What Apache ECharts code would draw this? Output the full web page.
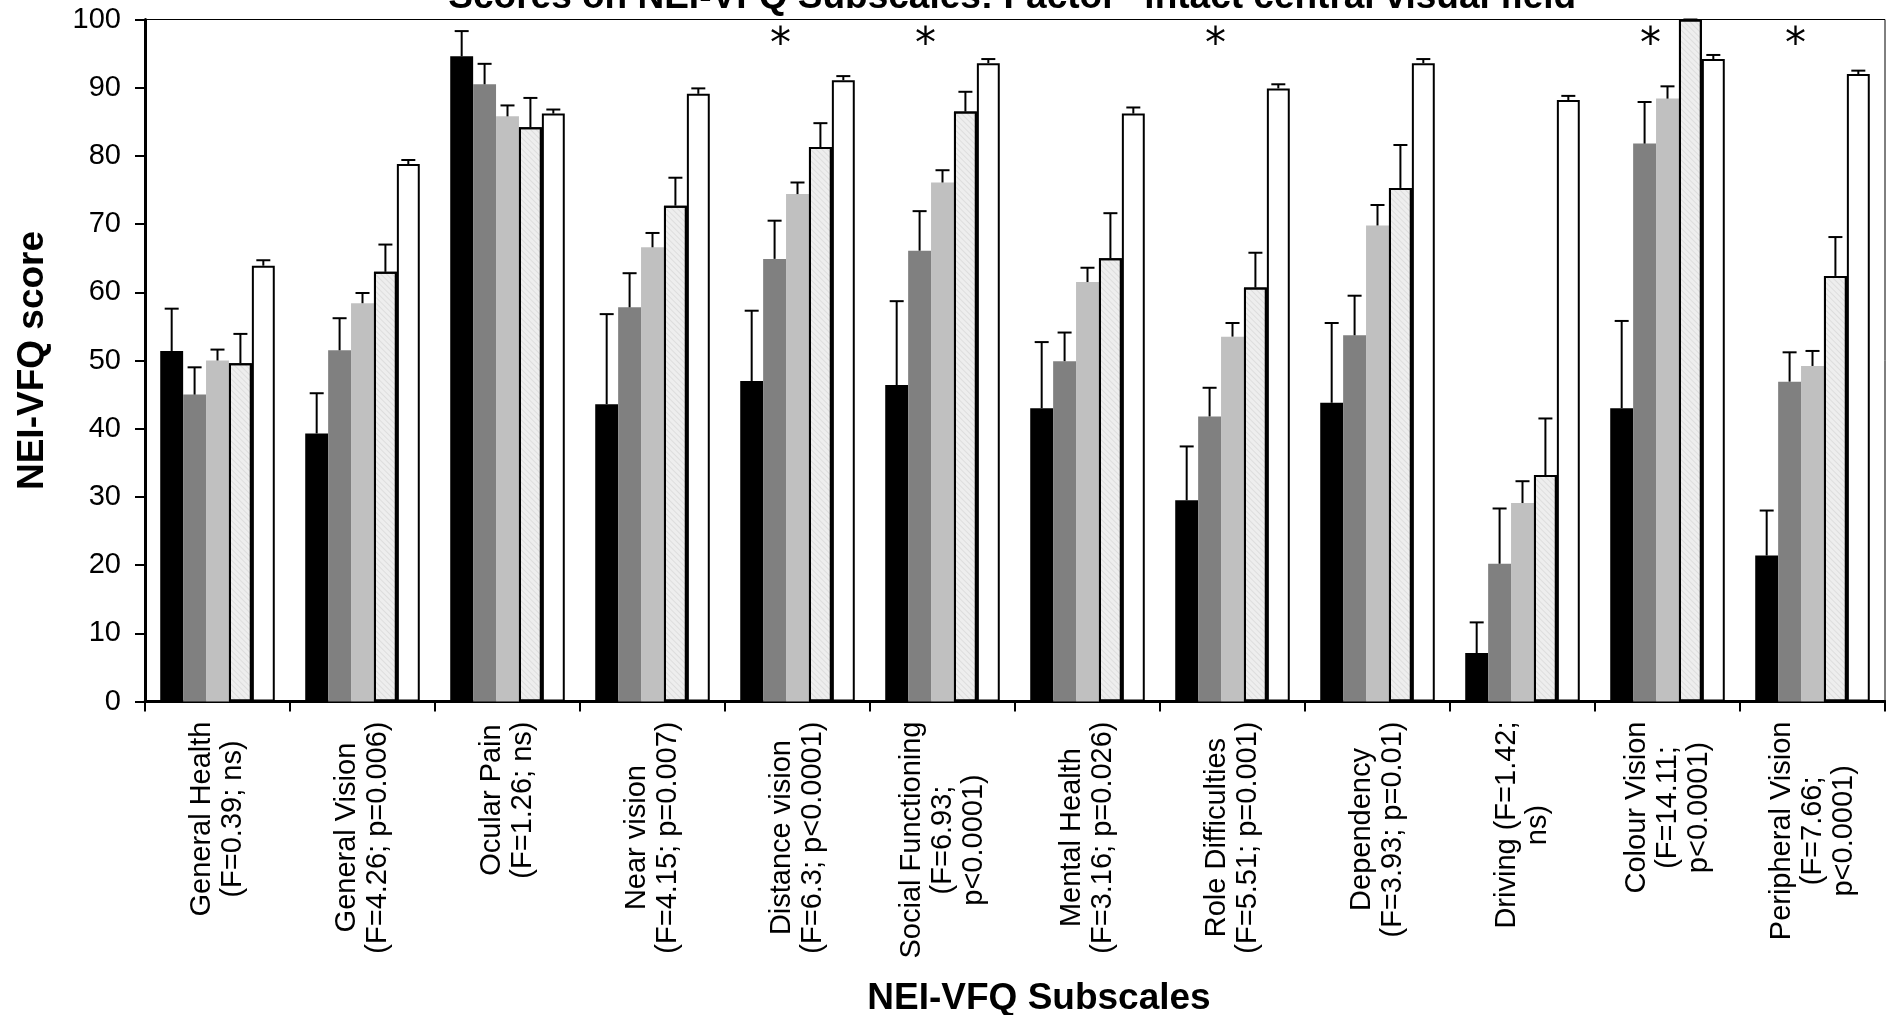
<!DOCTYPE html>
<html>
<head>
<meta charset="utf-8">
<script src="https://cdn.jsdelivr.net/npm/echarts/dist/echarts.min.js"></script>
<style>
html,body{margin:0;padding:0;background:#fff;}
#chart{width:1886px;height:1015px;}
</style>
</head>
<body>
<div id="chart"></div>
<script>
// ---- data ----
const categories = [
  'General Health\n(F=0.39; ns)',
  'General Vision\n(F=4.26; p=0.006)',
  'Ocular Pain\n(F=1.26; ns)',
  'Near vision\n(F=4.15; p=0.007)',
  'Distance vision\n(F=6.3; p<0.0001)',
  'Social Functioning\n(F=6.93;\np<0.0001)',
  'Mental Health\n(F=3.16; p=0.026)',
  'Role Difficulties\n(F=5.51; p=0.001)',
  'Dependency\n(F=3.93; p=0.01)',
  'Driving (F=1.42;\nns)',
  'Colour Vision\n(F=14.11;\np<0.0001)',
  'Peripheral Vision\n(F=7.66;\np<0.0001)'
];
const group1 = [51.4, 39.3, 94.6, 43.6, 47.0, 46.4, 43.0, 29.5, 43.8, 7.1, 43.0, 21.4];
const group2 = [45.0, 51.5, 90.5, 57.8, 64.9, 66.1, 49.9, 41.8, 53.7, 20.2, 81.8, 46.9];
const group3 = [50.0, 58.4, 85.8, 66.6, 74.4, 76.1, 61.5, 53.5, 69.8, 29.1, 88.4, 49.2];
const group4 = [49.6, 63.0, 84.2, 72.7, 81.3, 86.5, 65.0, 60.7, 75.3, 33.2, 100.0, 62.4];
const group5 = [63.9, 78.8, 86.2, 89.1, 91.1, 93.6, 86.2, 89.9, 93.6, 88.2, 94.2, 92.0];
// upper ends of the error bars
const group1Err = [57.6, 45.2, 98.3, 56.8, 57.3, 58.7, 52.7, 37.4, 55.5, 11.6, 55.8, 28.0];
const group2Err = [49.0, 56.2, 93.5, 62.8, 70.5, 71.9, 54.1, 46.0, 59.5, 28.3, 87.9, 51.2];
const group3Err = [51.6, 59.9, 87.4, 68.7, 76.1, 77.9, 63.6, 55.5, 72.8, 32.3, 90.2, 51.4];
const group4Err = [53.9, 67.0, 88.5, 76.8, 84.8, 89.4, 71.6, 65.8, 81.6, 41.5, 100.0, 68.1];
const group5Err = [64.7, 79.4, 86.8, 89.9, 91.7, 94.2, 87.1, 90.5, 94.2, 88.8, 94.8, 92.5];
const starredCategories = [4, 5, 7, 10, 11];
const starLevel = 97.4;
const yTicks = [0, 10, 20, 30, 40, 50, 60, 70, 80, 90, 100];

// ---- chart ----
const GAP = 0.21;
const values = [group1, group2, group3, group4, group5];
const errs = [group1Err, group2Err, group3Err, group4Err, group5Err];
const barStyles = [
  {color: '#000000'},
  {color: '#808080'},
  {color: '#c0c0c0'},
  {color: '#eeeeee', borderColor: '#000', borderWidth: 2,
   decal: {symbol: 'rect', symbolSize: 1, color: 'rgba(0,0,0,0.07)', dashArrayX: [1, 0], dashArrayY: [1, 3], rotation: Math.PI / 4}},
  {color: '#ffffff', borderColor: '#000', borderWidth: 2}
];

function barX(api, cat, sIdx) {
  const c = api.coord([cat, 0]);
  const band = api.size([1, 0])[0];
  const groupW = band * (1 - GAP);
  const barW = groupW / 5;
  return c[0] - groupW / 2 + barW * (sIdx + 0.5);
}

function errRenderer(sIdx) {
  return function (params, api) {
    const cat = api.value(0);
    const x = barX(api, cat, sIdx);
    const y0 = api.coord([cat, api.value(1)])[1];
    const y1 = api.coord([cat, api.value(2)])[1];
    const half = 7;
    return {
      type: 'group',
      children: [
        {type: 'line', shape: {x1: x, y1: y0, x2: x, y2: y1}, style: {stroke: '#000', lineWidth: 2}},
        {type: 'line', shape: {x1: x - half, y1: y1, x2: x + half, y2: y1}, style: {stroke: '#000', lineWidth: 2}}
      ]
    };
  };
}

const series = [];
values.forEach(function (arr, s) {
  series.push({
    type: 'bar',
    data: arr,
    barGap: 0,
    barCategoryGap: (GAP * 100) + '%',
    itemStyle: barStyles[s],
    z: 2
  });
});
errs.forEach(function (arr, s) {
  series.push({
    type: 'custom',
    renderItem: errRenderer(s),
    data: arr.map(function (top, i) { return [i, values[s][i], top]; }),
    encode: {x: 0, y: 2},
    z: 5,
    silent: true
  });
});
series.push({
  type: 'custom',
  renderItem: function (params, api) {
    const cat = api.value(0);
    const x = barX(api, cat, 1) + 6;
    const y = api.coord([cat, api.value(1)])[1];
    return {
      type: 'text',
      style: {text: '*', x: x, y: y + 9, fill: '#000', font: '42px "DejaVu Sans"', align: 'center', verticalAlign: 'middle'}
    };
  },
  data: starredCategories.map(function (c) { return [c, starLevel]; }),
  encode: {x: 0, y: 1},
  z: 6,
  silent: true
});

const chart = echarts.init(document.getElementById('chart'), null, {renderer: 'canvas'});
chart.setOption({
  animation: false,
  backgroundColor: '#fff',
  graphic: [{
    type: 'text',
    style: {
      text: 'Scores on NEI-VFQ Subscales: Factor "intact central visual field"',
      x: 1021, y: -2,
      font: 'bold 37px "Liberation Sans", Arial, sans-serif',
      fill: '#000',
      align: 'center',
      verticalAlign: 'middle'
    },
    z: 10
  }],
  grid: {
    left: 145, right: 1, top: 19.5, bottom: 1015 - 701.5,
    outerBoundsMode: 'none',
    containLabel: false,
    show: true, borderColor: '#000', borderWidth: 1, backgroundColor: 'transparent'
  },
  xAxis: {
    type: 'category',
    data: categories,
    name: 'NEI-VFQ Subscales',
    nameLocation: 'middle',
    nameGap: 279,
    nameTextStyle: {fontFamily: '"Liberation Sans", Arial, sans-serif', fontWeight: 'bold', fontSize: 37, color: '#000', padding: [0, 0, 0, 48]},
    axisLine: {lineStyle: {color: '#000', width: 3}},
    axisTick: {show: true, alignWithLabel: false, length: 10, lineStyle: {color: '#000', width: 2}},
    axisLabel: {
      interval: 0,
      rotate: 90,
      margin: 20,
      color: '#000',
      fontFamily: '"Liberation Sans", Arial, sans-serif',
      fontSize: 29,
      lineHeight: 31,
      formatter: function (v) {
        return v.split('\n').map(function (l) { return '{c|' + l + '}'; }).join('\n');
      },
      rich: {c: {align: 'center', fontSize: 29, lineHeight: 31, color: '#000', fontFamily: '"Liberation Sans", Arial, sans-serif'}}
    },
    splitLine: {show: false}
  },
  yAxis: {
    type: 'value',
    min: yTicks[0],
    max: yTicks[yTicks.length - 1],
    interval: yTicks[1] - yTicks[0],
    name: 'NEI-VFQ score',
    nameLocation: 'middle',
    nameGap: 94,
    nameTextStyle: {fontFamily: '"Liberation Sans", Arial, sans-serif', fontWeight: 'bold', fontSize: 37, color: '#000'},
    axisLine: {show: true, lineStyle: {color: '#000', width: 3}},
    axisTick: {show: true, length: 10, lineStyle: {color: '#000', width: 2}},
    axisLabel: {margin: 24, color: '#000', fontFamily: '"Liberation Sans", Arial, sans-serif', fontSize: 29},
    splitLine: {show: false}
  },
  series: series
});
</script>
</body>
</html>
